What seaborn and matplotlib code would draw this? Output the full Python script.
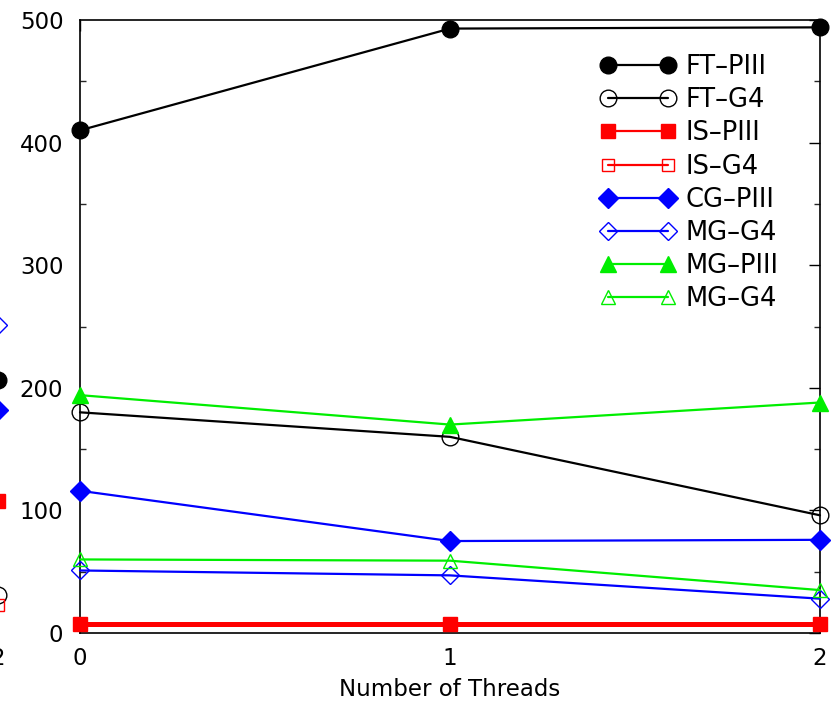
import matplotlib
matplotlib.use("Agg")
import matplotlib.pyplot as plt
from matplotlib.ticker import MultipleLocator
import seaborn as sns
import pandas as pd

sns.set_theme(style="white")
plt.rcParams["font.family"] = ["DejaVu Sans"]
plt.rcParams["text.color"] = "black"
plt.rcParams["axes.labelcolor"] = "black"

threads = [0, 1, 2]
tick_labels = ["0", "1", "2"]

series_names = ["FT\u2013PIII", "FT\u2013G4", "IS\u2013PIII", "IS\u2013G4",
                "CG\u2013PIII", "MG\u2013G4", "MG\u2013PIII", "MG\u2013G4"]
ft_piii = [410, 493, 494]
ft_g4 = [180, 160, 96]
is_piii = [7, 7, 7]
is_g4 = [7, 7, 7]
cg_piii = [116, 75, 76]
mg_g4_blue = [51, 47, 28]
mg_piii = [194, 170, 188]
mg_g4_green = [60, 59, 35]

# values of the neighbouring panel at its last thread count
prev_names = ["MG\u2013G4", "FT\u2013PIII", "CG\u2013PIII", "IS\u2013PIII", "FT\u2013G4", "IS\u2013G4"]
prev_values = [251, 206, 182, 108, 31, 23]

series_values = [ft_piii, ft_g4, is_piii, is_g4, cg_piii, mg_g4_blue, mg_piii, mg_g4_green]
colors = ["black", "black", "red", "red", "blue", "blue", "#00ee00", "#00ee00"]
markers = ["o", "o", "s", "s", "D", "D", "^", "^"]
filled = [True, False, True, False, True, False, True, False]
sizes = [12, 12, 10, 9, 10, 9.5, 12, 10.5]
widths = [1.6, 1.6, 3.6, 1.2, 1.6, 1.6, 1.6, 1.6]
layers = [3, 3, 4, 3, 3, 3, 3, 3]

FS = 16.5
LEG_FS = 18.5

fig = plt.figure(figsize=(8.32, 7.04), dpi=100)
ax = fig.add_axes([80 / 832, 1 - 633 / 704, 740 / 832, 613 / 704])

handles = []
for name, vals, c, m, f, s, w, z in zip(series_names, series_values, colors, markers,
                                        filled, sizes, widths, layers):
    df = pd.DataFrame({"threads": threads, "value": vals})
    sns.lineplot(data=df, x="threads", y="value", ax=ax, color=c, marker=m,
                 markersize=s, markerfacecolor=c if f else "none",
                 markeredgecolor=c, markeredgewidth=1.0, linewidth=w,
                 clip_on=False, zorder=z)
    handles.append(ax.lines[-1])

ax.set_xlim(0, 2)
ax.set_ylim(0, 500)
ax.set_xticks(threads)
ax.set_xticklabels(tick_labels)
ax.yaxis.set_major_locator(MultipleLocator(100))
ax.yaxis.set_minor_locator(MultipleLocator(50))
ax.tick_params(axis="both", which="major", direction="in", length=8, width=1,
               top=True, right=True, labelsize=FS, colors="black")
ax.tick_params(axis="y", which="major", pad=12)
ax.tick_params(axis="x", which="major", pad=10)
ax.tick_params(axis="y", which="minor", direction="in", length=4, width=1,
               left=True, right=True)
ax.set_xlabel("Number of Threads", fontsize=FS, labelpad=6, color="black")
ax.set_ylabel("")
for sp in ax.spines.values():
    sp.set_color("black")
    sp.set_linewidth(1.2)

# legend entries use the regular line weight
legend_lines = []
for h in handles:
    proxy = matplotlib.lines.Line2D([], [], color=h.get_color(), marker=h.get_marker(),
                                    markersize=h.get_markersize(),
                                    markerfacecolor=h.get_markerfacecolor(),
                                    markeredgecolor=h.get_markeredgecolor(),
                                    markeredgewidth=1.0, linewidth=1.6)
    legend_lines.append(proxy)

leg = fig.legend(legend_lines, series_names, loc="upper left",
                 bbox_to_anchor=(600 / 832, 1 - 54 / 704), frameon=False,
                 fontsize=LEG_FS, numpoints=2, handlelength=2.93,
                 handletextpad=0.4, labelspacing=0.28, borderpad=0,
                 borderaxespad=0)

# neighbouring panel, mostly outside the canvas on the left
ax_prev = fig.add_axes([-740 / 832 - 2 / 832, 1 - 633 / 704, 740 / 832, 613 / 704])
prev_styles = {"MG\u2013G4": ("blue", "D", False, 9.5),
               "FT\u2013PIII": ("black", "o", True, 12),
               "CG\u2013PIII": ("blue", "D", True, 10),
               "IS\u2013PIII": ("red", "s", True, 10),
               "FT\u2013G4": ("black", "o", False, 12),
               "IS\u2013G4": ("red", "s", False, 9)}
for name, v in zip(prev_names, prev_values):
    c, m, f, s = prev_styles[name]
    df = pd.DataFrame({"threads": [2], "value": [v]})
    sns.lineplot(data=df, x="threads", y="value", ax=ax_prev, color=c, marker=m,
                 markersize=s, markerfacecolor=c if f else "none",
                 markeredgecolor=c, markeredgewidth=1.0, clip_on=False)
ax_prev.set_xlim(0, 2)
ax_prev.set_ylim(0, 500)
ax_prev.set_xticks(threads)
ax_prev.set_xticklabels(tick_labels)
ax_prev.set_yticks([])
ax_prev.tick_params(axis="x", labelsize=FS, pad=10, direction="in", colors="black")
ax_prev.set_xlabel("")
ax_prev.set_ylabel("")
for sp in ax_prev.spines.values():
    sp.set_visible(False)

fig.savefig("out.png", dpi=100)
